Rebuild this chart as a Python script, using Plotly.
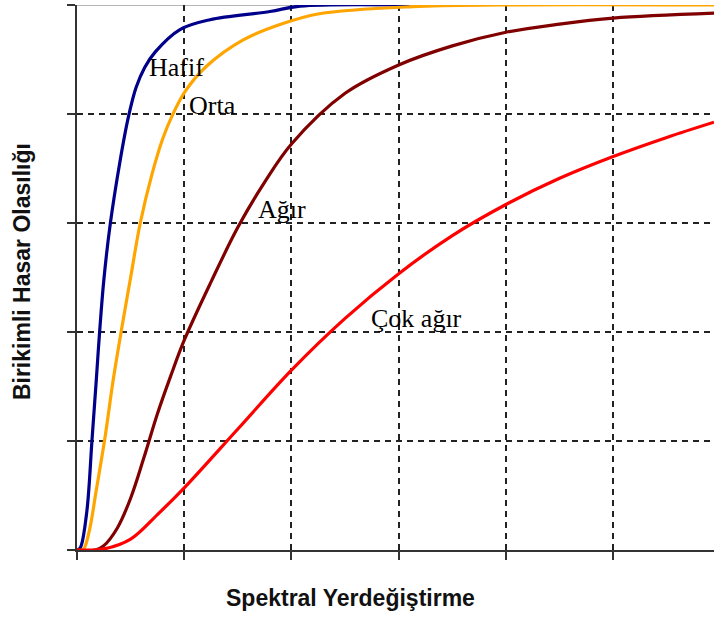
import plotly.graph_objects as go

# spectral displacement (x) and cumulative damage probability (y)
HAFIF_X = [0, 0.03, 0.09, 0.14, 0.18, 0.21, 0.25, 0.31, 0.40, 0.48, 0.55, 0.63, 0.73, 0.96, 1.24, 1.80, 2.08, 3.10]
HAFIF_Y = [0, 0.004, 0.068, 0.202, 0.312, 0.398, 0.495, 0.598, 0.712, 0.795, 0.848, 0.885, 0.914, 0.955, 0.973, 0.988, 0.998, 1.0]

ORTA_X = [0, 0.05, 0.07, 0.12, 0.18, 0.26, 0.34, 0.42, 0.50, 0.59, 0.70, 0.80, 0.89, 1.01, 1.21, 1.55, 1.92, 2.26, 3.13, 3.94, 5.94]
ORTA_Y = [0, 0, 0.004, 0.040, 0.110, 0.205, 0.315, 0.410, 0.500, 0.600, 0.690, 0.755, 0.798, 0.842, 0.888, 0.936, 0.966, 0.984, 0.997, 1.0, 1.0]

AGIR_X = [0, 0.17, 0.25, 0.375, 0.5, 0.625, 0.75, 0.875, 1.0, 1.25, 1.5, 1.75, 2.0, 2.5, 3.0, 3.5, 4.0, 4.5, 5.0, 5.94]
AGIR_Y = [0, 0, 0.008, 0.040, 0.095, 0.170, 0.250, 0.320, 0.385, 0.492, 0.592, 0.675, 0.745, 0.838, 0.890, 0.925, 0.950, 0.965, 0.976, 0.985]

COK_AGIR_X = [0, 0.25, 0.5, 0.75, 1.0, 1.5, 2.0, 2.5, 3.0, 3.5, 4.0, 4.5, 5.0, 5.5, 5.94]
COK_AGIR_Y = [0, 0.002, 0.020, 0.065, 0.114, 0.222, 0.330, 0.425, 0.507, 0.577, 0.634, 0.682, 0.722, 0.757, 0.785]

SERIES = [
    ("Hafif", HAFIF_X, HAFIF_Y, "#00008B"),
    ("Orta", ORTA_X, ORTA_Y, "#FFA500"),
    ("Ağır", AGIR_X, AGIR_Y, "#800000"),
    ("Çok ağır", COK_AGIR_X, COK_AGIR_Y, "#FF0000"),
]

# label anchor points (data coords)
LABELS = [("Hafif", 0.93, 0.885), ("Orta", 1.26, 0.815), ("Ağır", 1.91, 0.625), ("Çok ağır", 3.17, 0.425)]

fig = go.Figure()
for name, xs, ys, col in SERIES:
    fig.add_trace(go.Scatter(
        x=xs, y=ys, name=name, mode="lines",
        line=dict(color=col, width=3.2, shape="spline", smoothing=1.0),
        hoverinfo="skip",
    ))

for txt, lx, ly in LABELS:
    fig.add_annotation(
        x=lx, y=ly, text=txt, showarrow=False,
        xanchor="center", yanchor="middle",
        font=dict(family="Liberation Serif", size=26, color="black"),
    )

fig.add_annotation(
    xref="paper", yref="paper", x=-0.0863, y=0.51,
    text="<b>Birikimli Hasar Olasılığı</b>", textangle=-90, showarrow=False,
    xanchor="center", yanchor="middle",
    font=dict(family="Liberation Sans", size=23, color="#111111"),
)
fig.add_annotation(
    xref="paper", yref="paper", x=0.4286, y=-0.088,
    text="<b>Spektral Yerdeğiştirme</b>", showarrow=False,
    xanchor="center", yanchor="middle",
    font=dict(family="Liberation Sans", size=23, color="#111111"),
)

# light top frame line
fig.add_shape(type="line", xref="paper", yref="y", x0=0, x1=1, y0=1, y1=1,
              line=dict(color="#b5b5b5", width=2), layer="between")

fig.update_layout(
    width=714, height=619,
    margin=dict(l=77, r=0, t=5, b=69),
    plot_bgcolor="white",
    paper_bgcolor="white",
    showlegend=False,
)
fig.update_xaxes(
    range=[0, 5.94], tick0=0, dtick=1, automargin=False,
    showgrid=True, gridcolor="#222222", griddash="6px,5px", gridwidth=1.5,
    showline=True, linecolor="#333333", linewidth=2,
    ticks="outside", ticklen=8, tickcolor="#333333", tickwidth=2,
    showticklabels=False, zeroline=False,
)
fig.update_yaxes(
    range=[0, 1], tick0=0, dtick=0.2, automargin=False,
    showgrid=True, gridcolor="#222222", griddash="6px,5px", gridwidth=1.5,
    showline=True, linecolor="#333333", linewidth=2,
    ticks="outside", ticklen=8, tickcolor="#333333", tickwidth=2,
    showticklabels=False, zeroline=False,
)

fig.write_html("out.html", config={"displayModeBar": False},
               post_script="document.body.style.margin='0';")
